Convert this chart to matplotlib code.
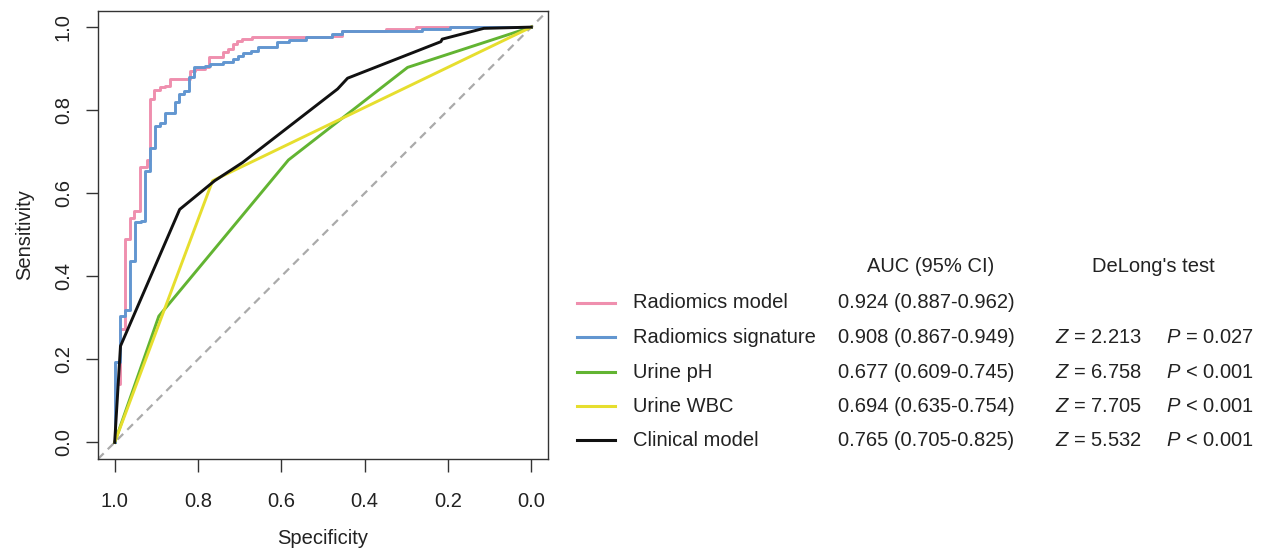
import matplotlib
matplotlib.use('Agg')
import matplotlib.pyplot as plt
from matplotlib.lines import Line2D

plt.rcParams['font.family'] = ['Liberation Sans', 'DejaVu Sans']
plt.rcParams['mathtext.fontset'] = 'custom'
plt.rcParams['mathtext.it'] = 'Liberation Sans:italic'
plt.rcParams['mathtext.rm'] = 'Liberation Sans'

# ROC coordinates (specificity, sensitivity)
model_spec = [1.0, 0.986, 0.976, 0.963, 0.953, 0.940, 0.923, 0.915, 0.905, 0.892, 0.880,
              0.868, 0.820, 0.808, 0.784, 0.774, 0.741, 0.727, 0.716, 0.706, 0.695, 0.671,
              0.478, 0.454, 0.349, 0.277, 0.0]
model_sens = [0.0, 0.140, 0.272, 0.489, 0.540, 0.557, 0.663, 0.680, 0.827, 0.849, 0.855,
              0.859, 0.876, 0.895, 0.899, 0.903, 0.927, 0.939, 0.947, 0.959, 0.967, 0.971,
              0.977, 0.979, 0.990, 0.995, 1.0]

sig_spec = [1.0, 0.986, 0.976, 0.964, 0.951, 0.938, 0.927, 0.915, 0.903, 0.891, 0.880,
            0.856, 0.845, 0.833, 0.821, 0.809, 0.784, 0.772, 0.741, 0.717, 0.705, 0.693,
            0.673, 0.657, 0.610, 0.581, 0.541, 0.478, 0.454, 0.263, 0.194, 0.0]
sig_sens = [0.0, 0.193, 0.304, 0.318, 0.437, 0.530, 0.533, 0.654, 0.710, 0.762, 0.770,
            0.793, 0.819, 0.839, 0.845, 0.879, 0.903, 0.907, 0.911, 0.915, 0.923, 0.931,
            0.937, 0.943, 0.951, 0.963, 0.969, 0.977, 0.983, 0.990, 0.995, 1.0]

ph_spec = [1.0, 0.894, 0.583, 0.297, 0.0]
ph_sens = [0.0, 0.304, 0.680, 0.903, 1.0]

wbc_spec = [1.0, 0.765, 0.0]
wbc_sens = [0.0, 0.630, 1.0]

clin_spec = [1.0, 0.986, 0.844, 0.760, 0.693, 0.465, 0.441, 0.217, 0.214, 0.114, 0.0]
clin_sens = [0.0, 0.232, 0.561, 0.630, 0.674, 0.851, 0.877, 0.965, 0.971, 0.997, 1.0]

names = ['Radiomics model', 'Radiomics signature', 'Urine pH', 'Urine WBC', 'Clinical model']
auc_ci = ['0.924 (0.887-0.962)', '0.908 (0.867-0.949)', '0.677 (0.609-0.745)',
          '0.694 (0.635-0.754)', '0.765 (0.705-0.825)']
z_vals = ['', '2.213', '6.758', '7.705', '5.532']
p_vals = ['', '= 0.027', '< 0.001', '< 0.001', '< 0.001']
colors = ['#EF8FAE', '#6296D0', '#62B432', '#E6DE2E', '#111111']

W, H = 1270, 554
fig = plt.figure(figsize=(12.7, 5.54), dpi=100)
ax = fig.add_axes([98 / W, 1 - 459 / H, 450 / W, 448.5 / H])

# chance line
ax.plot([1.04, -0.04], [-0.04, 1.04], color='#AAAAAA', lw=1.6, dashes=(3.6, 2.6))

ax.step(model_spec, model_sens, where='pre', color=colors[0], lw=2.1)
ax.step(sig_spec, sig_sens, where='pre', color=colors[1], lw=2.1)
ax.plot(ph_spec, ph_sens, color=colors[2], lw=2.1)
ax.plot(wbc_spec, wbc_sens, color=colors[3], lw=2.1)
ax.plot(clin_spec, clin_sens, color=colors[4], lw=2.1)

ax.set_xlim(1.04, -0.04)
ax.set_ylim(-0.04, 1.04)
ticks = [0.0, 0.2, 0.4, 0.6, 0.8, 1.0]
ax.set_xticks(ticks)
ax.set_yticks(ticks)
ax.set_xticklabels([f'{t:.1f}' for t in ticks])
ax.set_yticklabels([f'{t:.1f}' for t in ticks], rotation=90, va='center')
fs = 14.5
tc = '#222222'
ax.tick_params(length=9, width=1, color='#333333', labelsize=fs, labelcolor=tc)
ax.tick_params(axis='x', pad=15)
ax.tick_params(axis='y', pad=9)
for s in ax.spines.values():
    s.set_color('#333333')
    s.set_linewidth(1)
ax.set_xlabel('Specificity', fontsize=fs, color=tc, labelpad=13)
ax.set_ylabel('Sensitivity', fontsize=fs, color=tc, labelpad=14)

# legend table on the right
fig.text(867 / W, 1 - 267 / H, 'AUC (95% CI)', fontsize=fs, color=tc, va='center')
fig.text(1092 / W, 1 - 267 / H, "DeLong's test", fontsize=fs, color=tc, va='center')
row_y = [302.7, 337.3, 372, 406, 440]
for i, name in enumerate(names):
    yf = 1 - row_y[i] / H
    fig.add_artist(Line2D([577 / W, 615 / W], [yf, yf], color=colors[i], lw=2.2))
    fig.text(633 / W, yf, name, fontsize=fs, color=tc, va='center')
    fig.text(838 / W, yf, auc_ci[i], fontsize=fs, color=tc, va='center')
    if z_vals[i]:
        fig.text(1055 / W, yf, r'$\mathit{Z}$ = ' + z_vals[i], fontsize=fs, color=tc, va='center')
        fig.text(1166 / W, yf, r'$\mathit{P}$ ' + p_vals[i], fontsize=fs, color=tc, va='center')

fig.savefig('out.png', dpi=100)
